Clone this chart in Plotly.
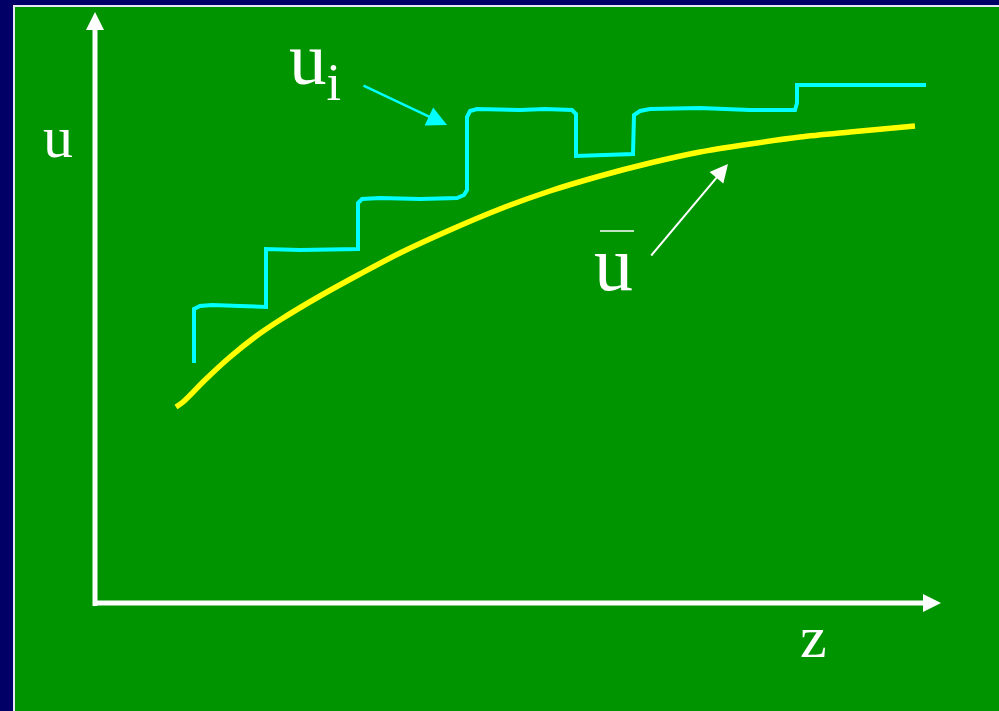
import plotly.graph_objects as go

# Data (z = horizontal position, u = vertical value; origin at the axes corner)
cyan_z = [99, 99, 105, 117, 145, 171, 171, 205, 263, 263, 267, 285, 325, 362, 369, 372, 372, 375, 382,
          425, 450, 477, 481, 481, 510, 538, 539, 545, 555, 605, 655, 700, 702, 702, 755, 831]
cyan_u = [240, 294, 297, 298, 297, 296, 354, 353, 354, 400, 404, 405, 404, 405, 408, 413, 486, 492, 494,
          493, 494, 493, 489, 447, 448, 449, 488, 492, 494, 495, 493, 493, 500, 518, 518, 518]

mean_z = [81, 88, 110, 135, 160, 185, 225, 265, 305, 355, 405, 455, 505, 555, 605, 655, 705, 755, 820]
mean_u = [196, 201, 223, 246, 266, 283, 307, 329, 350, 373, 394, 412, 427, 440, 451, 459, 466, 471, 477]

Z_MAX = 846
U_MAX = 591
HEAD = 18

NAVY = "#000066"
GREEN = "#009400"
FONT = "Liberation Serif"

fig = go.Figure()
fig.add_trace(go.Scatter(x=mean_z, y=mean_u, mode="lines",
                         line=dict(color="#FFFF00", width=5.5, shape="spline", smoothing=0.8),
                         hoverinfo="skip"))
fig.add_trace(go.Scatter(x=cyan_z, y=cyan_u, mode="lines",
                         line=dict(color="#00FFFF", width=4),
                         hoverinfo="skip"))

shapes = [
    # vertical axis
    dict(type="line", x0=0, y0=-3, x1=0, y1=U_MAX - HEAD, line=dict(color="white", width=5)),
    dict(type="path", path=f"M -9 {U_MAX-HEAD} L 9 {U_MAX-HEAD} L 0 {U_MAX} Z",
         fillcolor="white", line=dict(width=0)),
    # horizontal axis
    dict(type="line", x0=-2, y0=0, x1=Z_MAX - HEAD, y1=0, line=dict(color="white", width=5)),
    dict(type="path", path=f"M {Z_MAX-HEAD} -9 L {Z_MAX-HEAD} 9 L {Z_MAX} 0 Z",
         fillcolor="white", line=dict(width=0)),
    # bar over u
    dict(type="line", x0=505, y0=372, x1=539, y1=372, line=dict(color="white", width=1.5)),
]

annotations = [
    dict(x=-37, y=466, text="u", showarrow=False, font=dict(family=FONT, size=60, color="white")),
    dict(x=718, y=-34, text="z", showarrow=False, font=dict(family=FONT, size=60, color="white")),
    dict(x=192, y=539, text="u<sub>i</sub>", showarrow=False, xanchor="left",
         font=dict(family=FONT, size=75, color="white")),
    dict(x=518, y=340, text="u", showarrow=False, font=dict(family=FONT, size=78, color="white")),
    # arrows
    dict(x=352, y=478, ax=267, ay=518, xref="x", yref="y", axref="x", ayref="y", text="",
         showarrow=True, arrowhead=2, arrowsize=1.6, arrowwidth=2.5, arrowcolor="#00FFFF"),
    dict(x=633, y=439, ax=555, ay=346, xref="x", yref="y", axref="x", ayref="y", text="",
         showarrow=True, arrowhead=2, arrowsize=1.8, arrowwidth=2, arrowcolor="white"),
]

fig.update_layout(
    width=999, height=711,
    margin=dict(l=15, r=0, t=7, b=0),
    paper_bgcolor=NAVY, plot_bgcolor=GREEN,
    showlegend=False,
    shapes=shapes, annotations=annotations,
    xaxis=dict(range=[-80, 904], showgrid=False, zeroline=False, showticklabels=False, ticks="",
               showline=True, side="top", linecolor="#E6E6F5", linewidth=2, fixedrange=True),
    yaxis=dict(range=[-108, 596], showgrid=False, zeroline=False, showticklabels=False, ticks="",
               showline=True, linecolor="#E6E6F5", linewidth=2, fixedrange=True),
)

fig.write_html(
    "out.html",
    config={"displayModeBar": False},
    post_script="document.body.style.margin='0';document.body.style.padding='0';"
                "document.body.style.overflow='hidden';document.body.style.background='#000066';",
)
